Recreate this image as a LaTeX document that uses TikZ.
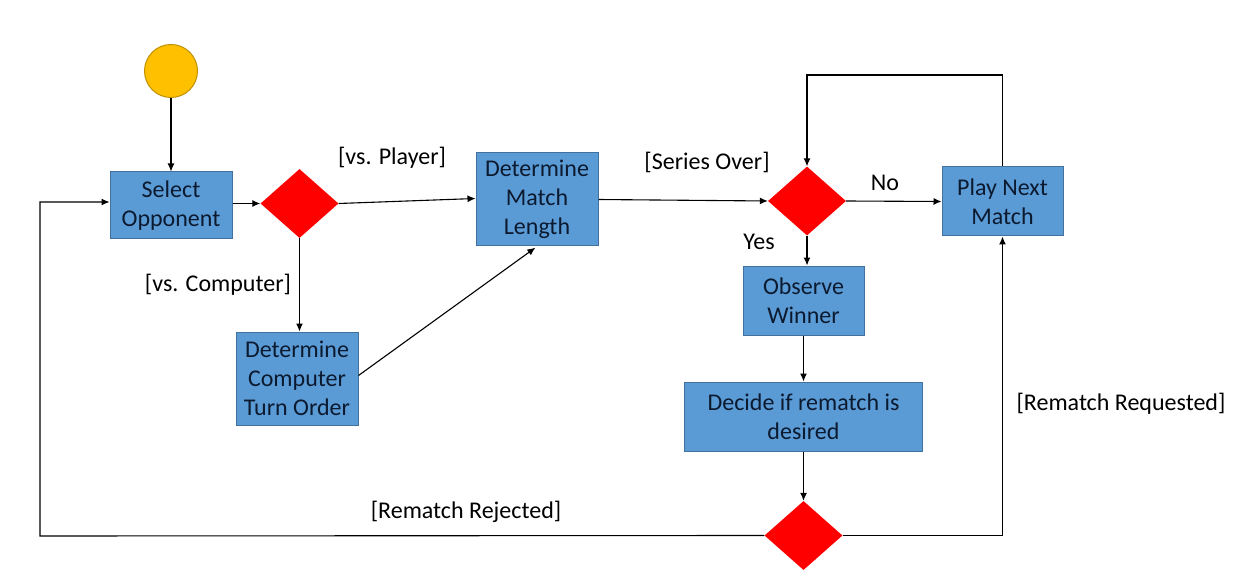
\documentclass[tikz,border=0pt]{standalone}
\usepackage{fontspec}
\setmainfont{Carlito}
\usetikzlibrary{shapes.geometric,arrows.meta}
\definecolor{boxblue}{HTML}{5B9BD5}
\definecolor{boxedge}{HTML}{41719C}
\definecolor{startfill}{HTML}{FFC000}
\definecolor{startedge}{HTML}{BF9000}
\definecolor{boxtext}{HTML}{0C1A30}
\begin{document}
\begin{tikzpicture}[x=1pt,y=-1pt,
  every node/.style={font=\fontsize{24}{29.3}\selectfont},
  proc/.style={rectangle,draw=boxedge,line width=1pt,fill=boxblue,text=boxtext,
     align=center,inner sep=0pt,minimum width=#1},
  proc/.default=122pt,
  dec/.style={diamond,fill=red,draw=none,inner sep=0pt,minimum width=78pt,minimum height=69pt},
  lbl/.style={text=black,inner sep=0pt},
  conn/.style={line width=1.1pt,-{Latex[length=8pt,width=7pt]}},
  plain/.style={line width=1.1pt}]
\useasboundingbox (0,0) rectangle (1245,580);
\node[circle,fill=startfill,draw=startedge,line width=1pt,minimum size=53pt,inner sep=0pt] (start) at (171,71) {};
\node[proc,minimum height=67pt] (sel) at (171,205.5) {Select\\Opponent};
\node[dec] (d1) at (299.5,203.5) {};
\node[proc,minimum height=93pt] (dml) at (537,199.5) {Determine\\Match\\Length};
\node[proc,minimum height=93pt] (dcto) at (297,378.5) {Determine\\Computer\\Turn Order};
\node[dec] (d2) at (807,201) {};
\node[proc=121pt,minimum height=69pt] (play) at (1002.5,201.5) {Play Next\\Match};
\node[proc=121pt,minimum height=69pt] (obs) at (803.5,300.5) {Observe\\Winner};
\node[proc=238pt,minimum height=69pt] (decide) at (803.5,416.5) {Decide if rematch is\\desired};
\node[dec] (d3) at (803.5,535.5) {};
\coordinate (top) at (807,75);
\coordinate (left) at (40,536);
\coordinate (leftup) at (40,202);
\node[lbl] (lp) at (392,158) {[vs. Player]};
\node[lbl] (lc) at (218,285) {[vs. Computer]};
\node[lbl] (lso) at (707,162) {[Series Over]};
\node[lbl] (lno) at (885,183) {No};
\node[lbl] (lyes) at (759,242) {Yes};
\node[lbl] (lrr) at (1121,404) {[Rematch Requested]};
\node[lbl] (lrj) at (466,512) {[Rematch Rejected]};
\draw[conn] (start) -- (sel);
\draw[conn] (sel.east |- d1.west) -- (d1.west);
\draw[conn] (d1.east) -- ([yshift=1pt]dml.west);
\draw[conn] (d1.south) -- (d1.south |- dcto.north);
\draw[conn,shorten >=2pt] ([yshift=3pt]dcto.east) -- (dml.south);
\draw[conn] (dml.east) -- (d2.west);
\draw[conn] (d2.east) -- (play.west);
\draw[conn] (d2.south) -- (d2.south |- obs.north);
\draw[conn] (obs.south) -- (decide.north);
\draw[conn] (decide.south) -- (d3.north);
\draw[conn] (d3.east) -| (play.south);
\draw[conn] (d3.west) -- (left) -- (leftup) -- (leftup -| sel.west);
\draw[conn] (play.north) |- (top) -- (d2.north);
\end{tikzpicture}
\end{document}
